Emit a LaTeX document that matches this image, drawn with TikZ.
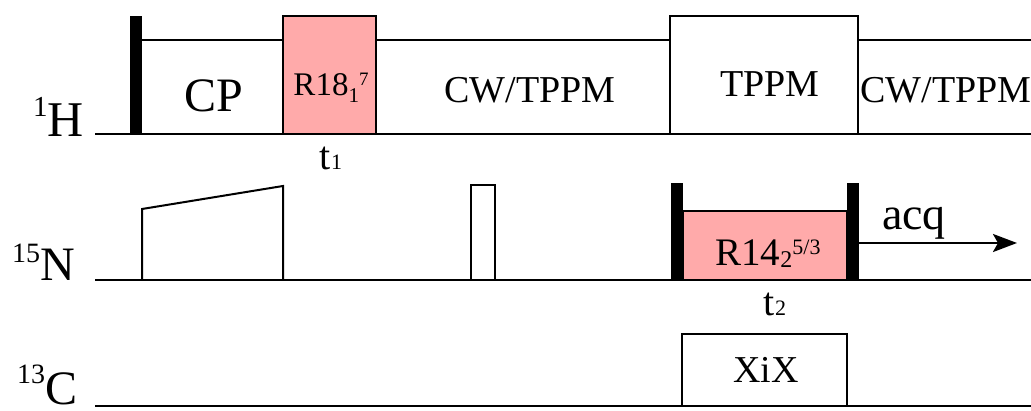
\documentclass[tikz,border=0pt]{standalone}
\usepackage{fontspec}
\setmainfont{Liberation Serif}
\usetikzlibrary{arrows.meta}

\definecolor{rpink}{RGB}{255,170,170}
\newcommand\fsz[1]{\fontsize{#1}{#1}\selectfont}

\tikzset{
  axis/.style={line width=2pt},
  edge/.style={line width=2pt},
  pulsebox/.style={draw, line width=2pt, inner sep=0pt, outer sep=0pt},
  rbox/.style={pulsebox, fill=rpink},
  hardpulse/.style={fill=black, inner sep=0pt, outer sep=0pt, minimum width=12pt},
  lab/.style={inner sep=0pt, anchor=base},
}

\begin{document}
\begin{tikzpicture}[x=1pt, y=-1pt]
\useasboundingbox (0,0) rectangle (1031,411);

% ---------- 1H channel ----------
\coordinate (hstart) at (95,134);
\coordinate (hend) at (1031,134);
\draw[axis] (hstart) -- (hend);

\node[hardpulse, minimum height=118pt] (hpi) at (136,75) {};
\node[rbox, minimum width=93pt, minimum height=118pt] (r18) at (329.5,75) {};
\node[pulsebox, fill=white, minimum width=188pt, minimum height=118pt] (tppm) at (764,75) {};

\coordinate (cwend) at (1031,40);
\draw[edge] (hpi.east |- 0,40) -- (r18.west |- 0,40);
\draw[edge] (r18.east |- 0,40) -- (tppm.west |- 0,40);
\draw[edge] (tppm.east |- 0,40) -- (cwend);

\node[lab] (cp) at (214,112) {\fsz{48}CP};
\node[lab] (r18txt) at (331,96) {\fsz{33}R18\fsz{21}\raisebox{-7pt}{1}\fsz{19}\raisebox{10pt}{7}};
\node[lab] (cw1) at (530,103) {\fsz{38}CW/TPPM};
\node[lab] (tppmtxt) at (770,97) {\fsz{38}TPPM};
\node[lab] (cw2) at (946,103) {\fsz{38}CW/TPPM};
\node[lab] (t1) at (331,170) {\fsz{40}t\fsz{22}1};

\node[lab, anchor=base west] (hlab) at (33,137) {\fsz{29}\raisebox{20pt}{1}\fsz{50}H};

% ---------- 15N channel ----------
\coordinate (nstart) at (95,280);
\coordinate (nend) at (1031,280);
\draw[axis] (nstart) -- (nend);

% ramped cross-polarisation pulse
\coordinate (ramp0) at (142,280);
\coordinate (ramp1) at (142,209);
\coordinate (ramp2) at (283,186);
\coordinate (ramp3) at (283,280);
\draw[edge, line join=miter] (ramp0) -- (ramp1) -- (ramp2) -- (ramp3);

\node[pulsebox, fill=white, minimum width=24pt, minimum height=95pt] (npi) at (483,232.5) {};

\node[hardpulse, minimum height=97pt] (npa) at (676.5,231.5) {};
\node[rbox, minimum width=164pt, minimum height=69pt] (r14) at (764.5,245.5) {};
\node[hardpulse, minimum height=97pt] (npb) at (852.5,231.5) {};

\node[lab] (r14txt) at (768,266) {\fsz{39}R14\fsz{24}\raisebox{-2pt}{2}\fsz{22}\raisebox{11pt}{5/3}};
\node[lab] (t2) at (775,316) {\fsz{40}t\fsz{22}2};

\node[lab] (acq) at (914,230) {\fsz{46}acq};
\coordinate (acqend) at (1017,243);
\draw[line width=2.5pt, -{Stealth[length=24pt, width=18pt, inset=5pt]}] (npb.east |- 0,243) -- (acqend);

\node[lab, anchor=base west] (nlab) at (12,281) {\fsz{28}\raisebox{18pt}{15}\fsz{48}N};

% ---------- 13C channel ----------
\coordinate (cstart) at (95,406);
\coordinate (cend) at (1031,406);
\draw[axis] (cstart) -- (cend);

\node[pulsebox, fill=white, minimum width=165pt, minimum height=72pt] (xix) at (764.5,370) {};
\node[lab] (xixtxt) at (766,383) {\fsz{38}XiX};

\node[lab, anchor=base west, text depth=0pt] (clab) at (17,405) {\fsz{28}\raisebox{21pt}{13}\fsz{48}C};
\end{tikzpicture}
\end{document}
